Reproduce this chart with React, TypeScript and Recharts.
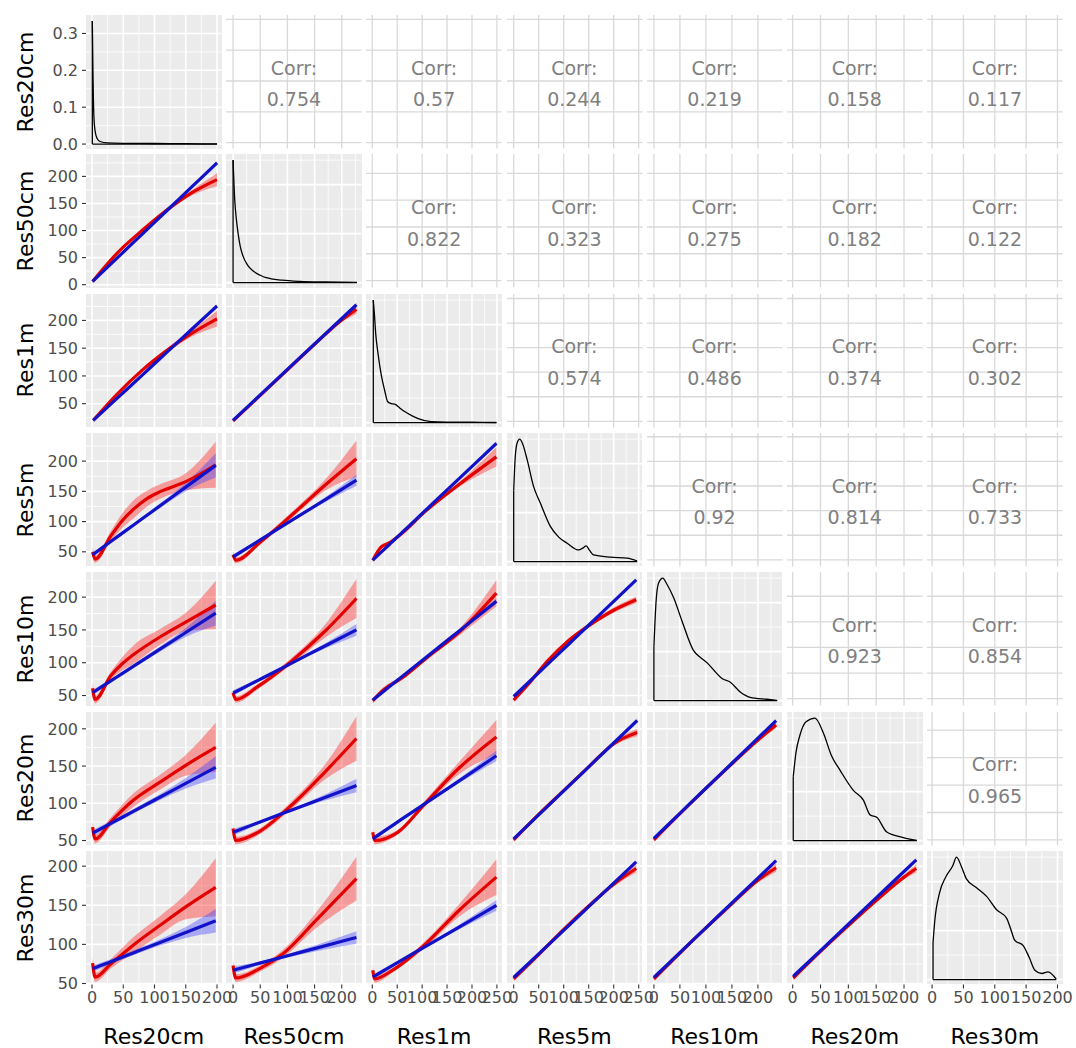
import React from "react";
import { ComposedChart, Line, Area, XAxis, YAxis, ReferenceLine } from "recharts";

const FONT = "DejaVu Sans, Verdana, sans-serif";

const variables = ["Res20cm", "Res50cm", "Res1m", "Res5m", "Res10m", "Res20m", "Res30m"];

// upper triangle correlation labels, one array per row
const corrRes20cm = ["0.754", "0.57", "0.244", "0.219", "0.158", "0.117"];
const corrRes50cm = ["0.822", "0.323", "0.275", "0.182", "0.122"];
const corrRes1m = ["0.574", "0.486", "0.374", "0.302"];
const corrRes5m = ["0.92", "0.814", "0.733"];
const corrRes10m = ["0.923", "0.854"];
const corrRes20m = ["0.965"];
const corrRows = [corrRes20cm, corrRes50cm, corrRes1m, corrRes5m, corrRes10m, corrRes20m];

// axis breaks
const ticks200 = [0, 50, 100, 150, 200];
const ticks250 = [0, 50, 100, 150, 200, 250];
const densityTicks = [0, 0.1, 0.2, 0.3];
const relTicks = [0, 0.4, 0.8];
const colTicks = [ticks200, ticks200, ticks250, ticks250, ticks200, ticks200, ticks200];
const rowTicks = [
  densityTicks,
  [0, 50, 100, 150, 200],
  [50, 100, 150, 200],
  [50, 100, 150, 200],
  [50, 100, 150, 200],
  [50, 100, 150, 200],
  [50, 100, 150, 200],
];

// scale limits (x per column, y per row of the scatter panels)
const colLimits = [
  [-9.6, 207.2], [-13, 236.3], [-12.6, 259.2], [-13.4, 257.6], [-13.3, 247.3], [-10.2, 233.2], [-8.1, 208],
];
const rowLimits = [
  [-0.012, 0.35], [-5.2, 241.4], [7.1, 247.6], [25.7, 246.5], [34.8, 238.3], [43.3, 222.6], [48.7, 219.4],
];
const relLimits = [-0.04, 1.05];

// diagonal densities [x, density]; first row 20cm is absolute, others relative to their peak
const densRes20cm = [[0.5, 0.334], [1.5, 0.2], [3, 0.075], [5, 0.035], [8, 0.016], [13, 0.007], [25, 0.003], [50, 0.002], [100, 0.0015], [150, 0.001], [200, 0.0005]];
const densRes50cm = [[0, 1], [3, 0.68], [6, 0.52], [9, 0.41], [13, 0.3], [18, 0.22], [27, 0.14], [37, 0.094], [50, 0.06], [61, 0.04], [90, 0.02], [123, 0.01], [170, 0.005], [228, 0.002]];
const densRes1m = [[2, 1], [4, 0.9], [7, 0.72], [11, 0.58], [18, 0.39], [25, 0.26], [31, 0.17], [38, 0.155], [45, 0.15], [55, 0.12], [65, 0.09], [80, 0.055], [92, 0.033], [118, 0.008], [150, 0.004], [200, 0.003], [249, 0.001]];
const densRes5m = [[0, 0.58], [3, 0.85], [7, 0.97], [12, 1], [18, 0.96], [27, 0.83], [40, 0.61], [53, 0.48], [73, 0.29], [90, 0.2], [107, 0.15], [130, 0.095], [138, 0.11], [145, 0.128], [152, 0.09], [160, 0.054], [193, 0.036], [227, 0.028], [247, 0.005]];
const densRes10m = [[0, 0.44], [4, 0.8], [9, 0.96], [17, 1], [25, 0.95], [38, 0.84], [54, 0.65], [76, 0.41], [90, 0.35], [102, 0.31], [117, 0.24], [131, 0.18], [147, 0.15], [166, 0.07], [185, 0.027], [217, 0.011], [237, 0.002]];
const densRes20m = [[1, 0.52], [6, 0.72], [13, 0.86], [24, 0.97], [40, 1], [55, 0.88], [70, 0.69], [85, 0.575], [109, 0.41], [127, 0.33], [139, 0.21], [151, 0.19], [169, 0.07], [197, 0.027], [223, 0.002]];
const densRes30m = [[1.5, 0.3], [4.3, 0.48], [12, 0.71], [22, 0.84], [33, 0.93], [39, 1], [47, 0.92], [55, 0.82], [71, 0.75], [87, 0.68], [103, 0.57], [119, 0.5], [125, 0.42], [132, 0.32], [145, 0.28], [155, 0.18], [164, 0.077], [175, 0.05], [185, 0.063], [198, 0.003]];
const densities = [densRes20cm, densRes50cm, densRes1m, densRes5m, densRes10m, densRes20m, densRes30m];

// lower panels: [x, loess, loess se, lm, lm se]
const fit21 = [[1, 6, 3, 6, 3], [40, 58, 3, 49, 2], [80, 100, 3, 93, 2], [120, 138, 4, 137, 2], [160, 170, 5, 181, 2], [200, 194, 12, 225, 3]];
const fit31 = [[2, 20, 3, 20, 2], [40, 67, 3, 59.5, 2], [80, 110, 3, 101, 2], [120, 146, 4, 143, 2], [160, 177, 6, 184.5, 2], [200, 203, 14, 226, 3]];
const fit41 = [[1, 50, 8, 45, 5], [5, 38, 6, 48, 4], [30, 76, 8, 67, 3], [48, 101, 12, 80.5, 3], [66, 120, 15, 94, 3], [88, 138, 13, 110.5, 3], [110, 150, 12, 127, 4], [150, 166, 14, 157, 7], [198, 194, 38, 193, 20]];
const fit51 = [[1, 61, 8, 54.4, 4], [5, 44, 6, 56.9, 4], [30, 80, 6, 72.3, 3], [48, 98, 10, 83.3, 3], [66, 112, 14, 94.4, 3], [110, 140, 12, 121.5, 4], [150, 162, 14, 146.1, 7], [198, 188, 37, 175.6, 19]];
const fit61 = [[1, 68, 8, 59.9, 4], [5, 52, 6, 61.7, 4], [30, 75, 6, 72.9, 3], [66, 104, 9, 89.1, 3], [110, 129, 10, 108.8, 4], [150, 151, 14, 126.8, 7], [198, 175, 33, 148.3, 15]];
const fit71 = [[1, 76, 8, 68.9, 4], [5, 58, 6, 70.1, 4], [30, 75, 6, 77.9, 3], [66, 99, 10, 89.1, 3], [110, 125, 12, 102.8, 4], [150, 148, 16, 115.3, 7], [198, 173, 37, 130.2, 15]];
const fit32 = [[0, 19, 3, 19.9, 2], [50, 65, 2, 65.8, 1.5], [100, 111, 2, 111.7, 1.5], [150, 157, 2, 157.6, 1.5], [200, 201, 4, 203.5, 2], [227, 220, 8, 228.3, 3]];
const fit42 = [[0, 45, 6, 41.7, 4], [5, 36, 5, 44.5, 4], [50, 66, 4, 69.6, 2], [107, 110, 5, 101.4, 2], [169, 160, 9, 136, 4], [227, 204, 30, 168.4, 9]];
const fit52 = [[0, 54, 6, 53.7, 4], [5, 44, 5, 55.8, 4], [46, 64, 4, 73.2, 2], [107, 102, 5, 99.1, 2], [169, 148, 10, 125.5, 4], [227, 198, 30, 150.1, 9]];
const fit62 = [[0, 66, 6, 61.1, 4], [5, 50, 5, 62.5, 4], [46, 61, 4, 73.8, 2], [107, 97, 5, 90.7, 2], [169, 142, 10, 107.9, 4], [227, 187, 30, 123.9, 9]];
const fit72 = [[0, 73, 6, 67, 4], [5, 57, 5, 67.9, 4], [49, 69, 4, 76, 2], [92, 88, 5, 83.9, 2], [153, 131, 10, 95.2, 4], [227, 184, 28, 108.8, 8]];
const fit43 = [[1, 36, 4, 36.3, 2], [18, 58, 4, 49.4, 2], [35, 65, 3, 62.6, 1.5], [60, 81, 3, 82.1, 1.5], [105, 116, 3, 117.2, 1.5], [172, 160, 4, 169.5, 2], [249, 207, 16, 229.3, 4]];
const fit53 = [[1, 42, 4, 43.3, 2], [20, 57, 4, 54.8, 2], [60, 77, 3, 79.2, 1.5], [110, 108, 3, 109.6, 1.5], [175, 147, 5, 148.9, 2], [249, 206, 20, 193.6, 4]];
const fit63 = [[1, 61, 5, 52.2, 3], [5, 50, 5, 54, 3], [51, 61, 3, 75.1, 2], [105, 99, 4, 99.1, 2], [172, 146, 8, 129.1, 3], [249, 189, 23, 163.8, 7]];
const fit73 = [[1, 67, 5, 58.3, 3], [5, 56, 5, 59.8, 3], [41, 67, 3, 73.2, 2], [101, 97, 4, 95.3, 2], [175, 144, 8, 122.5, 3], [249, 186, 23, 149.9, 7]];
const fit54 = [[0, 43, 3, 48.5, 1.5], [30, 68, 3, 70.2, 1.5], [67, 102, 3, 97, 1.5], [110, 134, 3, 128.2, 1.5], [153, 158, 3, 159.4, 1.5], [200, 180, 4, 193.4, 1.5], [245, 196, 5, 226.3, 2]];
const fit64 = [[0, 51, 3, 52.3, 1.5], [50, 85, 2, 84.5, 1], [100, 117, 2, 116.6, 1], [150, 149, 2, 148.8, 1], [200, 180, 3, 181, 1.5], [247, 195, 5, 211.2, 2]];
const fit74 = [[0, 56, 3, 57.7, 1.5], [50, 87, 2, 87.9, 1], [100, 119, 2, 118, 1], [150, 149, 2, 148.2, 1], [200, 177, 3, 178.4, 1.5], [245, 197, 5, 205.5, 2]];
const fit65 = [[0, 51, 3, 52.8, 1.5], [50, 86, 2, 86.5, 1], [100, 120, 2, 120.2, 1], [150, 153, 2, 153.8, 1], [200, 185, 3, 187.5, 1.5], [235, 205, 4, 211.1, 2]];
const fit75 = [[0, 56, 3, 57.7, 1.5], [50, 89, 2, 89.5, 1], [100, 121, 2, 121.2, 1], [150, 152, 2, 153, 1], [200, 182, 3, 184.7, 1.5], [235, 198, 5, 207, 2]];
const fit76 = [[1, 57, 3, 59.1, 1.5], [50, 91, 2, 92.1, 1], [100, 124, 2, 125.8, 1], [150, 156, 2, 159.5, 1], [200, 186, 3, 193.2, 1.5], [222, 197, 5, 208, 2]];

const lowerFits: Record<string, number[][]> = {
  "1-0": fit21, "2-0": fit31, "3-0": fit41, "4-0": fit51, "5-0": fit61, "6-0": fit71,
  "2-1": fit32, "3-1": fit42, "4-1": fit52, "5-1": fit62, "6-1": fit72,
  "3-2": fit43, "4-2": fit53, "5-2": fit63, "6-2": fit73,
  "4-3": fit54, "5-3": fit64, "6-3": fit74,
  "5-4": fit65, "6-4": fit75,
  "6-5": fit76,
};

// layout
const PANEL_W = 135.5;
const PANEL_H = 133.5;
const STEP_X = 140.2;
const STEP_Y = 139.3;
const ORIGIN_X = 86;
const ORIGIN_Y = 15;
const AXIS_W = 86;
const AXIS_H = 32;

const RED = "#e30000";
const BLUE = "#1212c8";

const minorBreaks = (major: number[], lim: number[]) => {
  const step = major[1] - major[0];
  const out: number[] = [];
  for (let i = -1; i < major.length; i++) {
    const m = major[0] + step * (i + 0.5);
    if (m > lim[0] && m < lim[1]) out.push(m);
  }
  return out;
};

const gridLines = (
  xMajor: number[], xMinor: number[], yMajor: number[], yMinor: number[],
  color: string, majorW: number, minorW: number
) => {
  const out: React.ReactNode[] = [];
  xMinor.forEach((v, i) => out.push(<ReferenceLine key={`xm${i}`} x={v} stroke={color} strokeWidth={minorW} ifOverflow="discard" zIndex={-100} />));
  yMinor.forEach((v, i) => out.push(<ReferenceLine key={`ym${i}`} y={v} stroke={color} strokeWidth={minorW} ifOverflow="discard" zIndex={-100} />));
  xMajor.forEach((v, i) => out.push(<ReferenceLine key={`xM${i}`} x={v} stroke={color} strokeWidth={majorW} ifOverflow="discard" zIndex={-100} />));
  yMajor.forEach((v, i) => out.push(<ReferenceLine key={`yM${i}`} y={v} stroke={color} strokeWidth={majorW} ifOverflow="discard" zIndex={-100} />));
  return out;
};

const tickStyle = { fill: "#4d4d4d", fontSize: 16, fontFamily: FONT };
const chartStyle: React.CSSProperties = { overflow: "visible" };

const axes = (r: number, c: number, xLim: number[], yLim: number[], yT: number[], fmt?: (v: number) => string) => [
  <XAxis
    key="x"
    type="number"
    dataKey="x"
    domain={xLim}
    allowDataOverflow
    ticks={colTicks[c]}
    interval={0}
    hide={r !== 6}
    height={AXIS_H}
    tickSize={4}
    tickMargin={3}
    axisLine={false}
    tickLine={{ stroke: "#333333", strokeWidth: 1.1 }}
    tick={tickStyle}
  />,
  <YAxis
    key="y"
    type="number"
    domain={yLim}
    allowDataOverflow
    ticks={yT}
    interval={0}
    hide={c !== 0}
    width={AXIS_W}
    tickSize={4}
    tickMargin={4}
    axisLine={false}
    tickLine={{ stroke: "#333333", strokeWidth: 1.1 }}
    tick={tickStyle}
    tickFormatter={fmt}
  />,
];

const chartSize = (r: number, c: number) => ({
  width: PANEL_W + (c === 0 ? AXIS_W : 0),
  height: PANEL_H + (r === 6 ? AXIS_H : 0),
});

const LowerPanel = ({ r, c }: { r: number; c: number }) => {
  const rows = lowerFits[`${r}-${c}`].map(([x, red, redSe, blue, blueSe]) => ({
    x,
    red,
    redBand: [red - redSe, red + redSe],
    blue,
    blueBand: [blue - blueSe, blue + blueSe],
  }));
  const xLim = colLimits[c];
  const yLim = rowLimits[r];
  const { width, height } = chartSize(r, c);
  return (
    <ComposedChart width={width} height={height} data={rows} style={chartStyle} margin={{ top: 0, right: 0, bottom: 0, left: 0 }}>
      {axes(r, c, xLim, yLim, rowTicks[r])}
      {gridLines(colTicks[c], minorBreaks(colTicks[c], xLim), rowTicks[r], minorBreaks(rowTicks[r], yLim), "#ffffff", 1.6, 0.8)}
      <Area dataKey="redBand" type="monotone" stroke="none" fill="#ff2a2a" fillOpacity={0.42} isAnimationActive={false} />
      <Area dataKey="blueBand" type="monotone" stroke="none" fill="#3a3aff" fillOpacity={0.38} isAnimationActive={false} />
      <Line dataKey="red" type="monotone" stroke={RED} strokeWidth={3.2} dot={false} isAnimationActive={false} />
      <Line dataKey="blue" type="monotone" stroke={BLUE} strokeWidth={3.2} dot={false} isAnimationActive={false} />
    </ComposedChart>
  );
};

const DiagPanel = ({ i }: { i: number }) => {
  const pts = densities[i].map(([x, d]) => ({ x, d }));
  const xLim = colLimits[i];
  const yLim = i === 0 ? rowLimits[0] : relLimits;
  const yT = i === 0 ? densityTicks : relTicks;
  const first = pts[0];
  const last = pts[pts.length - 1];
  const { width, height } = chartSize(i, i);
  return (
    <ComposedChart width={width} height={height} data={pts} style={chartStyle} margin={{ top: 0, right: 0, bottom: 0, left: 0 }}>
      {axes(i, i, xLim, yLim, yT, (v: number) => v.toFixed(1))}
      {gridLines(colTicks[i], minorBreaks(colTicks[i], xLim), yT, minorBreaks(yT, yLim), "#ffffff", 1.6, 0.8)}
      <ReferenceLine segment={[{ x: first.x, y: 0 }, { x: first.x, y: first.d }]} stroke="#000" strokeWidth={1.3} />
      <ReferenceLine segment={[{ x: first.x, y: 0 }, { x: last.x, y: 0 }]} stroke="#000" strokeWidth={1.3} />
      <Line dataKey="d" type="monotone" stroke="#000" strokeWidth={1.3} dot={false} isAnimationActive={false} />
    </ComposedChart>
  );
};

const UpperPanel = ({ r, c }: { r: number; c: number }) => {
  const xLim = colLimits[c];
  const yLim = colLimits[r];
  const pts = colTicks[c].map((x) => ({ x }));
  return (
    <ComposedChart width={PANEL_W} height={PANEL_H} data={pts} margin={{ top: 0, right: 0, bottom: 0, left: 0 }}>
      <XAxis type="number" dataKey="x" domain={xLim} allowDataOverflow hide />
      <YAxis type="number" domain={yLim} allowDataOverflow hide />
      {gridLines(colTicks[c], [], colTicks[r], [], "#d9d9d9", 1.3, 0)}
    </ComposedChart>
  );
};

export default function App() {
  const cells: React.ReactNode[] = [];
  for (let r = 0; r < 7; r++) {
    for (let c = 0; c < 7; c++) {
      const left = ORIGIN_X + c * STEP_X;
      const top = ORIGIN_Y + r * STEP_Y;
      if (r >= c) {
        cells.push(
          <div key={`bg${r}${c}`} style={{ position: "absolute", left, top, width: PANEL_W, height: PANEL_H, background: "#ebebeb" }} />
        );
      }
      cells.push(
        <div key={`p${r}${c}`} style={{ position: "absolute", left: left - (c === 0 ? AXIS_W : 0), top }}>
          {r > c ? <LowerPanel r={r} c={c} /> : r === c ? <DiagPanel i={r} /> : <UpperPanel r={r} c={c} />}
        </div>
      );
      if (r < c) {
        const cy = top + PANEL_H / 2;
        const textStyle: React.CSSProperties = {
          position: "absolute",
          left,
          width: PANEL_W,
          textAlign: "center",
          fontSize: 19,
          lineHeight: "19px",
          color: "#7f7f7f",
        };
        cells.push(
          <div key={`ct${r}${c}`} style={{ ...textStyle, top: cy - 13.5 - 9.5 }}>Corr:</div>,
          <div key={`cv${r}${c}`} style={{ ...textStyle, top: cy + 18 - 9.5 }}>{corrRows[r][c - r - 1]}</div>
        );
      }
    }
  }
  const titles = variables.flatMap((name, i) => [
    <div
      key={`yt${i}`}
      style={{
        position: "absolute",
        left: 25.4 - PANEL_H / 2,
        top: ORIGIN_Y + i * STEP_Y + PANEL_H / 2 - 11,
        width: PANEL_H,
        height: 22,
        lineHeight: "22px",
        fontSize: 22,
        textAlign: "center",
        transform: "rotate(-90deg)",
        color: "#000",
      }}
    >
      {name}
    </div>,
    <div
      key={`xt${i}`}
      style={{
        position: "absolute",
        left: ORIGIN_X + i * STEP_X,
        top: 1026,
        width: PANEL_W,
        lineHeight: "22px",
        fontSize: 22,
        textAlign: "center",
        color: "#000",
      }}
    >
      {name}
    </div>,
  ]);
  return (
    <div style={{ position: "absolute", left: 0, top: 0, width: 1076, height: 1048, background: "#fff", fontFamily: FONT, overflow: "hidden" }}>
      <style>{".recharts-wrapper, .recharts-surface { overflow: visible !important; }"}</style>
      {cells}
      {titles}
    </div>
  );
}
